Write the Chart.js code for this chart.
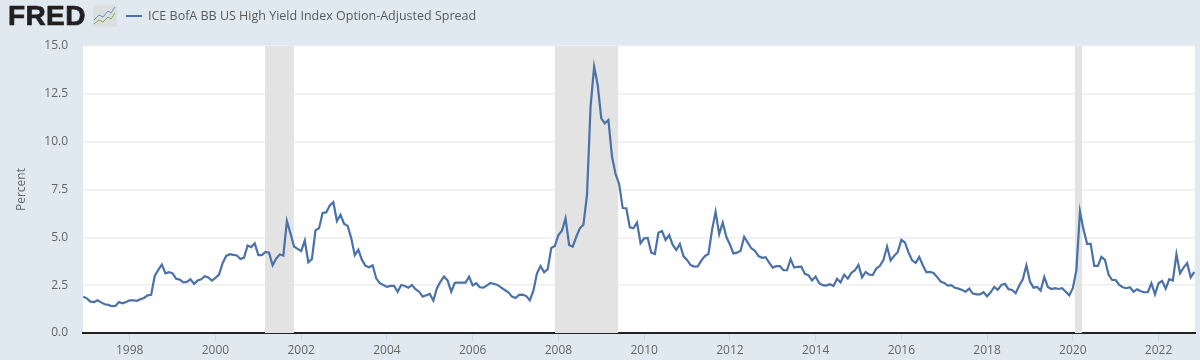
<!DOCTYPE html>
<html lang="en">
<head>
<meta charset="UTF-8">
<title>ICE BofA BB US High Yield Index Option-Adjusted Spread</title>
<script src="https://cdn.jsdelivr.net/npm/chart.js"></script>
<style>
    html, body { margin: 0; background: #e1e9f0; }
    #wrap { position: relative; width: 1200px; height: 360px; overflow: hidden; }
    canvas { position: absolute; left: 0; top: 0; }
    #logo { position: absolute; left: 8px; top: 0; font: bold 28px "Liberation Sans", sans-serif; letter-spacing: 0.4px; color: #231f20; -webkit-text-stroke: 0.7px #231f20; }
    #icon { position: absolute; left: 93px; top: 5px; }
    #legendLine { position: absolute; left: 126px; top: 15px; width: 16px; height: 2px; background: #4572a7; }
    #legendText { position: absolute; left: 148px; top: 7px; font: 12.5px "Open Sans", sans-serif; color: #595959; white-space: nowrap; }
</style>
</head>
<body>
<div id="wrap">
    <canvas id="chart" width="1200" height="360"></canvas>
    <div id="logo">FRED</div>
    <svg id="icon" width="24" height="22" viewBox="0 0 24 22">
        <rect width="24" height="22" rx="2" fill="#dcdfe0"/>
        <polyline points="1,15 6,10 10,12 15,6 18,8 22,2" fill="none" stroke="#6d8fb5" stroke-width="1"/>
        <polyline points="1,19 6,15 10,17 15,12 18,14 22,8" fill="none" stroke="#7fae4c" stroke-width="1"/>
    </svg>
    <div id="legendLine"></div>
    <div id="legendText">ICE BofA BB US High Yield Index Option-Adjusted Spread</div>
</div>
<script>
// monthly values, Dec 1996 onward
const spread = [
    1.90, 1.81, 1.64, 1.62, 1.71, 1.60, 1.50, 1.47, 1.40, 1.41, 1.62, 1.55,
    1.62, 1.71, 1.71, 1.68, 1.76, 1.83, 1.97, 2.00, 2.98, 3.30, 3.58, 3.12,
    3.18, 3.12, 2.83, 2.79, 2.65, 2.67, 2.81, 2.57, 2.74, 2.81, 2.97, 2.90,
    2.74, 2.88, 3.05, 3.65, 4.03, 4.12, 4.08, 4.05, 3.87, 3.94, 4.57, 4.49,
    4.68, 4.07, 4.07, 4.24, 4.20, 3.54, 3.89, 4.10, 4.05, 5.85, 5.20, 4.52,
    4.40, 4.28, 4.83, 3.70, 3.87, 5.36, 5.48, 6.27, 6.30, 6.67, 6.84, 5.85,
    6.18, 5.71, 5.60, 4.96, 4.07, 4.35, 3.82, 3.51, 3.44, 3.54, 2.86, 2.60,
    2.51, 2.41, 2.46, 2.46, 2.15, 2.51, 2.46, 2.37, 2.51, 2.29, 2.16, 1.90,
    1.97, 2.04, 1.69, 2.34, 2.69, 2.95, 2.74, 2.16, 2.62, 2.64,
    2.63, 2.63, 2.94, 2.49, 2.60, 2.39, 2.37, 2.49, 2.61, 2.56, 2.51, 2.37,
    2.25, 2.13, 1.90, 1.83, 1.99, 2.00, 1.93, 1.71, 2.21, 3.12, 3.50, 3.17,
    3.33, 4.44, 4.55, 5.12, 5.35, 5.99, 4.60, 4.51, 5.03, 5.47, 5.66, 7.21,
    11.83, 13.92, 12.96, 11.22, 10.96, 11.13, 9.22, 8.31, 7.79, 6.53, 6.52, 5.52,
    5.47, 5.77, 4.69, 4.95, 4.97, 4.20, 4.13, 5.24, 5.33, 4.86, 5.12, 4.60,
    4.34, 4.65, 4.02, 3.82, 3.55, 3.47, 3.48, 3.78, 4.02, 4.13, 5.38, 6.34,
    5.17, 5.77, 5.03, 4.63, 4.16, 4.20, 4.30, 5.03, 4.72, 4.43, 4.30, 4.02,
    3.93, 3.96, 3.68, 3.42, 3.49, 3.49, 3.28, 3.28, 3.86, 3.42, 3.46,
    3.47, 3.09, 3.02, 2.74, 2.95, 2.60, 2.50, 2.48, 2.55, 2.46, 2.83, 2.65,
    3.05, 2.84, 3.14, 3.28, 3.56, 2.91, 3.19, 3.05, 3.04, 3.37, 3.51, 3.82,
    4.52, 3.79, 4.03, 4.24, 4.87, 4.73, 4.21, 3.80, 3.66, 3.98, 3.54, 3.18,
    3.19, 3.14, 2.93, 2.69, 2.62, 2.48, 2.50, 2.36, 2.32, 2.25, 2.16, 2.32,
    2.06, 2.02, 2.02, 2.13, 1.92, 2.13, 2.41, 2.25, 2.51, 2.57, 2.29, 2.25,
    2.08, 2.48, 2.81, 3.54, 2.69, 2.37, 2.41, 2.22, 2.93, 2.41, 2.30, 2.34,
    2.30, 2.34, 2.16, 1.97, 2.34, 3.30, 6.35, 5.39, 4.66, 4.66, 3.51, 3.51,
    3.98, 3.82, 3.05, 2.77, 2.77, 2.51, 2.39, 2.34, 2.39, 2.16, 2.29, 2.18,
    2.13, 2.13, 2.60, 2.02, 2.60, 2.72, 2.32, 2.81, 2.74, 4.12, 3.12, 3.42,
    3.65, 2.91, 3.19
];
const firstMonth = 1996 + 11 / 12;
const axisStart = 1996.91;
const axisEnd = 2022.85;
const recessionStarts = [2001.15, 2007.92, 2020.05];
const recessionEnds = [2001.83, 2009.40, 2020.22];
const yTop = 15;

const linePoints = spread.map((v, i) => ({ x: firstMonth + i / 12, y: v }));
const bandPoints = [];
recessionStarts.forEach((s, i) => {
    bandPoints.push({ x: s, y: yTop }, { x: recessionEnds[i], y: yTop }, { x: recessionEnds[i], y: null });
});

const tickFont = { family: '"Open Sans", sans-serif', size: 12 };

// white plot area on the blue-grey page
const plotBackground = {
    id: 'plotBackground',
    beforeDraw(chart) {
        const a = chart.chartArea;
        chart.ctx.fillStyle = '#fff';
        chart.ctx.fillRect(a.left, a.top, a.width, a.height);
    }
};

new Chart(document.getElementById('chart'), {
    type: 'line',
    data: {
        datasets: [
            {
                label: 'ICE BofA BB US High Yield Index Option-Adjusted Spread',
                data: linePoints,
                borderColor: '#4a72a8',
                borderWidth: 2.2,
                pointRadius: 0,
                tension: 0,
                order: 1
            },
            {
                label: 'Recessions',
                data: bandPoints,
                borderWidth: 0,
                backgroundColor: '#e3e3e3',
                fill: 'origin',
                pointRadius: 0,
                order: 2
            }
        ]
    },
    plugins: [plotBackground],
    options: {
        responsive: false,
        animation: false,
        layout: { padding: { top: 46, right: 5, left: 14, bottom: 0 } },
        plugins: { legend: { display: false }, tooltip: { enabled: false } },
        scales: {
            x: {
                type: 'linear',
                min: axisStart,
                max: axisEnd,
                afterFit: (scale) => { scale.height = 27; },
                border: { color: '#222', width: 2 },
                grid: { drawOnChartArea: false, color: '#ccd6eb', tickLength: 8 },
                ticks: {
                    stepSize: 2,
                    includeBounds: false,
                    maxRotation: 0,
                    color: '#666',
                    font: tickFont,
                    padding: 2,
                    callback: (v) => String(v)
                }
            },
            y: {
                min: 0,
                max: yTop,
                afterFit: (scale) => { scale.width = 69; },
                border: { display: false },
                grid: { color: '#eeeeee', lineWidth: 1.5, drawTicks: false },
                title: { display: true, text: 'Percent', color: '#666', font: tickFont, padding: 0 },
                ticks: {
                    stepSize: 2.5,
                    color: '#666',
                    font: tickFont,
                    padding: 15,
                    callback: (v) => v.toFixed(1)
                }
            }
        }
    }
});
</script>
</body>
</html>
